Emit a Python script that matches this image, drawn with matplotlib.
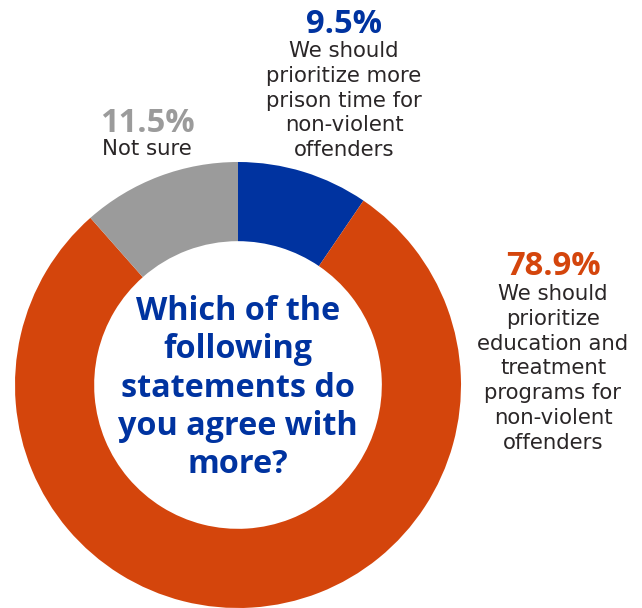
import matplotlib
matplotlib.use("Agg")
import matplotlib.pyplot as plt

# Survey responses (percent), drawn clockwise from 12 o'clock
labels = [
    ["We should", "prioritize more", "prison time for", "non-violent", "offenders"],
    ["We should", "prioritize", "education and", "treatment", "programs for",
     "non-violent", "offenders"],
    ["Not sure"],
]
values = [9.5, 78.9, 11.5]
colors = ["#0033A0", "#D4450C", "#9B9B9B"]
question = ["Which of the", "following", "statements do", "you agree with", "more?"]

W, H = 642, 608
fig = plt.figure(figsize=(W / 100, H / 100), dpi=100)
ax = fig.add_axes([0, 0, 1, 1])

cx, cy, r = 238, H - 385, 223
ax.pie(values, colors=colors, startangle=90, counterclock=False,
       center=(cx, cy), radius=r,
       wedgeprops=dict(width=r * 0.355, linewidth=0))
ax.set_xlim(0, W)
ax.set_ylim(0, H)
ax.set_aspect("equal")
ax.axis("off")

bold_font = "Open Sans"
body_font = "DejaVu Sans"
body_color = "#2A2627"


def lines(x, y0, step, rows, **kw):
    for i, s in enumerate(rows):
        ax.text(x, H - (y0 + i * step), s, ha="center", va="baseline", **kw)


# question in the hole
lines(cx, 320, 38.3, question, fontsize=23.3, fontweight="bold",
      color="#0033A0", family=bold_font)


def label(x, y_pct, pct, color, rows, y_body):
    ax.text(x, H - y_pct, pct, ha="center", va="baseline", fontsize=23.5,
            fontweight="bold", color=color, family=bold_font)
    lines(x, y_body, 24.8, rows, fontsize=15.3, fontweight="normal",
          color=body_color, family=body_font)


label(344, 33, f"{values[0]}%", colors[0], labels[0], 57)
label(553, 275, f"{values[1]}%", colors[1], labels[1], 300)
label(147, 132, f"{values[2]}%", colors[2], labels[2], 155)

fig.savefig("out.png", dpi=100)
